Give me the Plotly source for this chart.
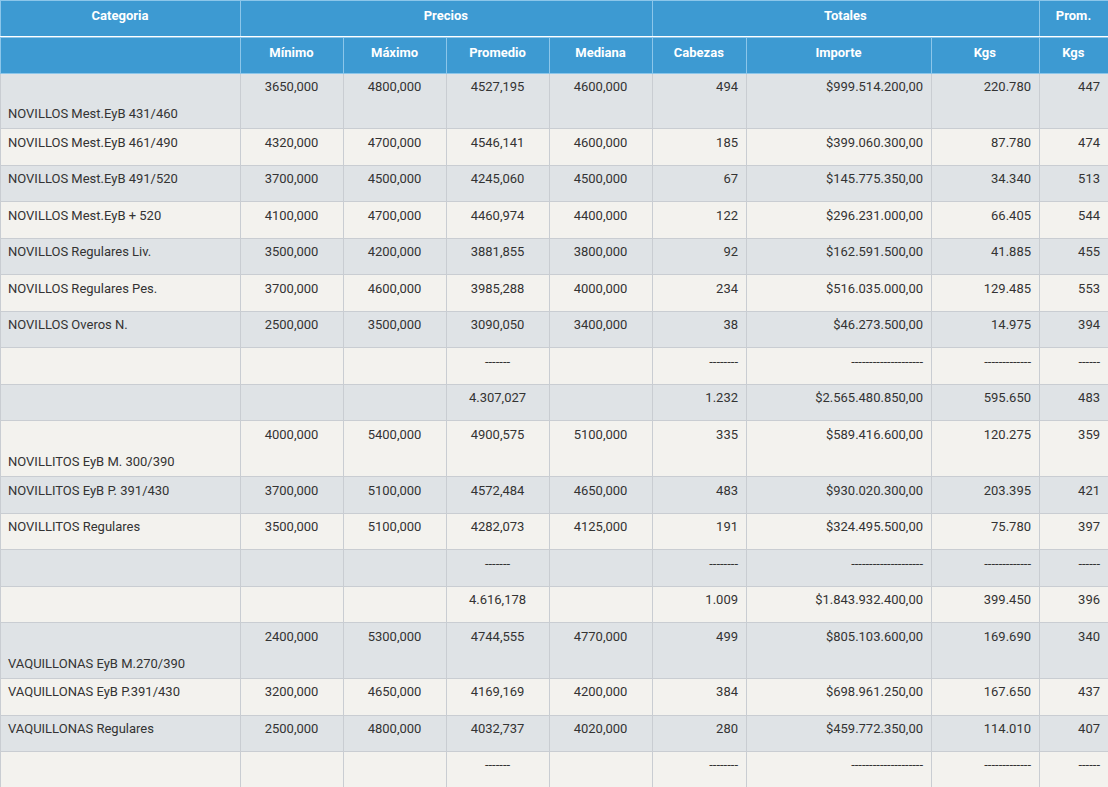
import plotly.graph_objects as go

# group header (first header row)
grupos = ["Categoria", "Precios", "Totales", "Prom."]
grupos_ancho = [240, 412, 387, 69]

# column headers (second header row)
columnas = ["", "Mínimo", "Máximo", "Promedio", "Mediana", "Cabezas", "Importe", "Kgs", "Kgs"]
columnas_ancho = [240, 103, 103, 103, 103, 94, 185, 108, 69]

D7 = "-------"
D8 = "--------"
D20 = "--------------------"
D13 = "-------------"
D6 = "------"

# the first row of each group has the name on a second line
# (a taller blank first line makes the row about as high as in the original)
SALTO = "<span style='font-size:22px'>\u00a0</span><br>"
categoria = [
    SALTO + "NOVILLOS Mest.EyB 431/460",
    "NOVILLOS Mest.EyB 461/490",
    "NOVILLOS Mest.EyB 491/520",
    "NOVILLOS Mest.EyB + 520",
    "NOVILLOS Regulares Liv.",
    "NOVILLOS Regulares Pes.",
    "NOVILLOS Overos N.",
    "", "",
    SALTO + "NOVILLITOS EyB M. 300/390",
    "NOVILLITOS EyB P. 391/430",
    "NOVILLITOS Regulares",
    "", "",
    SALTO + "VAQUILLONAS EyB M.270/390",
    "VAQUILLONAS EyB P.391/430",
    "VAQUILLONAS Regulares",
    "",
]
minimo = ["3650,000", "4320,000", "3700,000", "4100,000", "3500,000", "3700,000", "2500,000", "", "",
          "4000,000", "3700,000", "3500,000", "", "",
          "2400,000", "3200,000", "2500,000", ""]
maximo = ["4800,000", "4700,000", "4500,000", "4700,000", "4200,000", "4600,000", "3500,000", "", "",
          "5400,000", "5100,000", "5100,000", "", "",
          "5300,000", "4650,000", "4800,000", ""]
promedio = ["4527,195", "4546,141", "4245,060", "4460,974", "3881,855", "3985,288", "3090,050", D7, "4.307,027",
            "4900,575", "4572,484", "4282,073", D7, "4.616,178",
            "4744,555", "4169,169", "4032,737", D7]
mediana = ["4600,000", "4600,000", "4500,000", "4400,000", "3800,000", "4000,000", "3400,000", "", "",
           "5100,000", "4650,000", "4125,000", "", "",
           "4770,000", "4200,000", "4020,000", ""]
cabezas = ["494", "185", "67", "122", "92", "234", "38", D8, "1.232",
           "335", "483", "191", D8, "1.009",
           "499", "384", "280", D8]
importe = ["$999.514.200,00", "$399.060.300,00", "$145.775.350,00", "$296.231.000,00",
           "$162.591.500,00", "$516.035.000,00", "$46.273.500,00", D20, "$2.565.480.850,00",
           "$589.416.600,00", "$930.020.300,00", "$324.495.500,00", D20, "$1.843.932.400,00",
           "$805.103.600,00", "$698.961.250,00", "$459.772.350,00", D20]
kgs = ["220.780", "87.780", "34.340", "66.405", "41.885", "129.485", "14.975", D13, "595.650",
       "120.275", "203.395", "75.780", D13, "399.450",
       "169.690", "167.650", "114.010", D13]
prom_kgs = ["447", "474", "513", "544", "455", "553", "394", D6, "483",
            "359", "421", "397", D6, "396",
            "340", "437", "407", D6]

AZUL = "#3d9ad2"
BORDE_HEAD = "#8cc6ea"
GRIS = "#dfe3e6"
BEIGE = "#f3f2ee"
BORDE = "#c9cdd2"
FUENTE = "Roboto"

filas = len(categoria)
colores = [GRIS if i % 2 == 0 else BEIGE for i in range(filas)]
valores = [categoria, minimo, maximo, promedio, mediana, cabezas, importe, kgs, prom_kgs]
alineacion = ["left", "center", "center", "center", "center", "right", "right", "right", "right"]

H = 787
HEAD = 37

fig = go.Figure()

fig.add_trace(go.Table(
    domain=dict(x=[0, 1], y=[1 - HEAD / H, 1]),
    columnwidth=grupos_ancho,
    header=dict(
        values=["<b>%s</b>" % g for g in grupos],
        fill_color=AZUL,
        line_color=BORDE_HEAD,
        align="center",
        height=HEAD,
        font=dict(family=FUENTE, size=13, color="white"),
    ),
    cells=dict(values=[[] for _ in grupos]),
))

fig.add_trace(go.Table(
    domain=dict(x=[0, 1], y=[0, 1 - HEAD / H]),
    columnwidth=columnas_ancho,
    header=dict(
        values=["<b>%s</b>" % c for c in columnas],
        fill_color=AZUL,
        line_color=BORDE_HEAD,
        align="center",
        height=36,
        font=dict(family=FUENTE, size=13, color="white"),
    ),
    cells=dict(
        values=valores,
        fill_color=[colores] * len(valores),
        line_color=BORDE,
        align=alineacion,
        height=36.5,
        font=dict(family=FUENTE, size=13, color="#333333"),
    ),
))

fig.update_layout(
    width=1108, height=787,
    margin=dict(l=0, r=0, t=0, b=0),
    paper_bgcolor="white",
)

# no page margin, so the table starts at the window corner
fig.write_html("out.html", config={"displayModeBar": False},
               post_script="document.body.style.margin='0';")
